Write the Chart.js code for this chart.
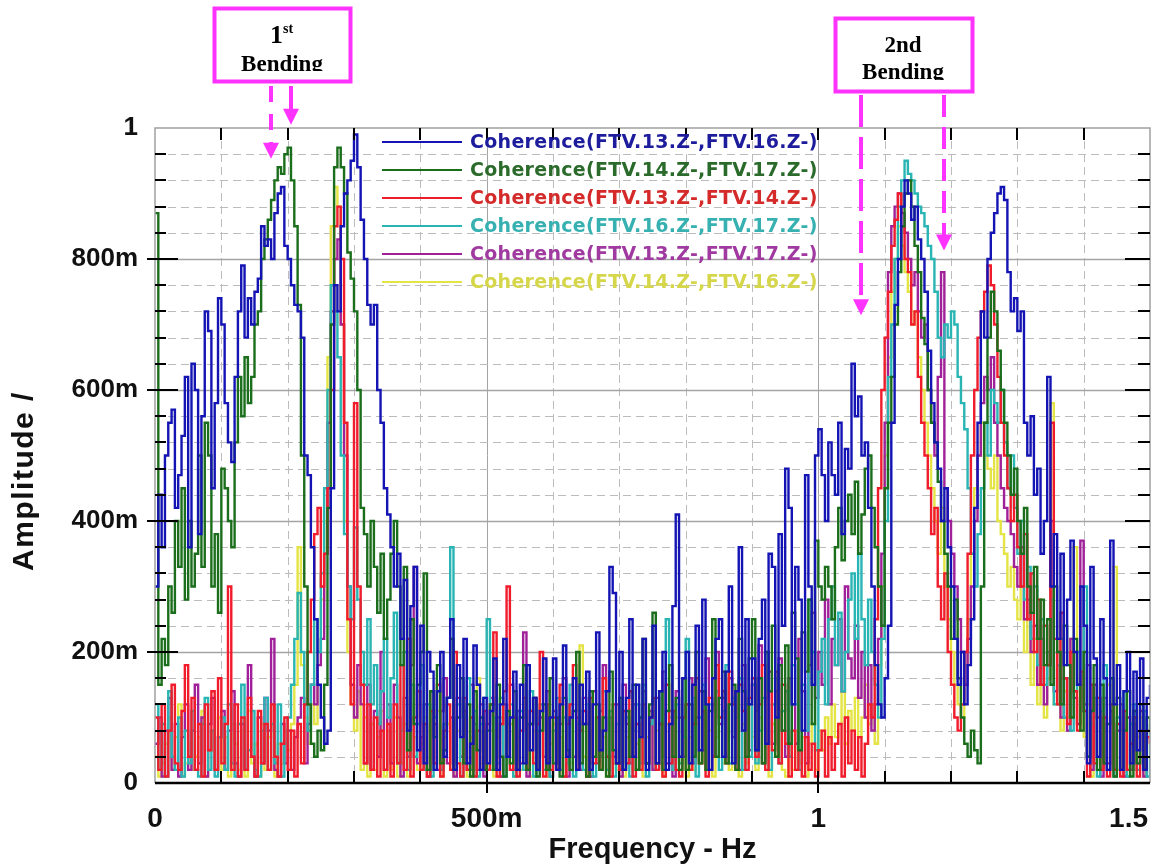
<!DOCTYPE html>
<html><head><meta charset="utf-8">
<script src="https://cdn.jsdelivr.net/npm/chart.js@4.4.1/dist/chart.umd.min.js"></script>
<style>html,body{margin:0;padding:0;background:#fff}canvas{display:block}</style>
</head><body>
<canvas id="c" width="1152" height="867"></canvas>
<script>
// Spectral line spacing of the coherence estimates (Hz)
const FREQ_STEP = 0.005;

const seriesLabels = [
  'Coherence(FTV.13.Z-,FTV.16.Z-)',
  'Coherence(FTV.14.Z-,FTV.17.Z-)',
  'Coherence(FTV.13.Z-,FTV.14.Z-)',
  'Coherence(FTV.16.Z-,FTV.17.Z-)',
  'Coherence(FTV.13.Z-,FTV.17.Z-)',
  'Coherence(FTV.14.Z-,FTV.16.Z-)'
];

const xTickLabels = ['0', '500m', '1', '1.5'];
const xTickValues = [0, 0.5, 1, 1.5];
const xTitle = 'Frequency - Hz';
const yTitle = 'Amplitude /';

const coh13_16 = [
.30,.44,.36,.50,.55,.57,.42,.47,.53,.62,
.36,.64,.60,.38,.56,.72,.69,.45,.58,.74,
.70,.58,.52,.49,.62,.72,.79,.68,.74,.70,
.75,.77,.85,.82,.83,.80,.87,.90,.91,.82,
.80,.76,.73,.72,.68,.50,.47,.36,.25,.15,
.10,.06,.08,.45,.76,.72,.85,.90,.92,.95,
.99,.94,.86,.80,.73,.70,.73,.60,.55,.45,
.41,.36,.30,.35,.22,.31,.08,.27,.33,.05,
.24,.03,.20,.17,.02,.14,.20,.04,.13,.25,
.02,.18,.07,.22,.03,.06,.21,.15,.02,.13,
.03,.11,.19,.02,.12,.22,.04,.10,.17,.02,
.15,.03,.18,.05,.13,.02,.11,.19,.03,.10,
.19,.02,.12,.21,.04,.10,.16,.02,.15,.09,
.17,.02,.12,.23,.05,.08,.14,.33,.29,.03,
.20,.02,.13,.25,.04,.15,.07,.22,.02,.10,
.24,.03,.14,.20,.02,.09,.27,.41,.04,.16,
.20,.03,.15,.24,.05,.28,.12,.02,.16,.22,
.25,.04,.17,.30,.03,.14,.36,.08,.25,.12,
.19,.05,.22,.28,.06,.35,.33,.10,.38,.24,
.48,.42,.12,.33,.28,.08,.47,.30,.15,.50,
.54,.47,.40,.52,.47,.44,.55,.38,.51,.48,
.64,.56,.59,.50,.52,.42,.30,.18,.12,.10,
.16,.24,.55,.73,.80,.88,.92,.90,.86,.88,
.83,.80,.75,.66,.58,.52,.48,.40,.45,.36,
.30,.22,.15,.20,.12,.18,.25,.42,.55,.72,
.68,.80,.84,.87,.90,.91,.89,.78,.72,.74,
.69,.72,.55,.50,.56,.44,.48,.35,.40,.62,
.30,.38,.22,.35,.18,.28,.37,.20,.15,.30,
.24,.03,.33,.19,.04,.25,.16,.02,.37,.12,
.18,.02,.14,.20,.03,.17,.05,.19,.02,.13,
.15];

const coh14_17 = [
.87,.15,.22,.18,.30,.26,.40,.33,.45,.28,
.40,.30,.35,.50,.33,.55,.50,.30,.38,.26,
.48,.45,.40,.36,.52,.62,.56,.65,.58,.62,
.70,.72,.80,.83,.86,.89,.92,.94,.93,.96,
.97,.92,.85,.73,.50,.30,.12,.06,.04,.08,
.05,.15,.42,.70,.94,.97,.94,.90,.81,.77,
.72,.60,.42,.38,.30,.40,.33,.26,.35,.22,
.28,.35,.40,.30,.18,.33,.05,.25,.09,.15,
.20,.32,.02,.14,.07,.18,.03,.05,.13,.22,
.02,.10,.16,.03,.12,.01,.14,.05,.10,.02,
.08,.12,.02,.15,.04,.01,.11,.03,.14,.02,
.10,.18,.02,.09,.13,.01,.08,.12,.02,.16,
.03,.10,.01,.13,.05,.02,.11,.20,.03,.09,
.01,.14,.04,.12,.02,.10,.01,.17,.05,.03,
.13,.02,.11,.04,.15,.02,.10,.22,.03,.12,
.26,.03,.14,.02,.11,.18,.04,.13,.02,.16,
.02,.12,.04,.20,.03,.14,.02,.11,.25,.04,
.13,.17,.03,.12,.15,.02,.22,.14,.04,.19,
.25,.05,.16,.03,.20,.14,.24,.04,.18,.08,
.21,.06,.26,.19,.05,.23,.17,.28,.09,.37,
.30,.28,.33,.30,.25,.36,.42,.34,.40,.44,
.38,.46,.35,.41,.48,.50,.42,.36,.30,.24,
.45,.55,.62,.70,.78,.85,.90,.92,.88,.82,
.78,.71,.67,.60,.55,.52,.46,.40,.35,.30,
.22,.28,.16,.10,.06,.04,.08,.05,.03,.30,
.55,.68,.75,.72,.66,.60,.55,.50,.44,.48,
.40,.35,.42,.30,.26,.33,.22,.28,.18,.25,
.15,.30,.20,.12,.24,.18,.10,.22,.15,.08,
.20,.04,.11,.18,.02,.15,.03,.09,.16,.01,
.13,.02,.08,.14,.01,.11,.03,.12,.02,.10,
.08];

const coh13_14 = [
.10,.02,.12,.01,.08,.15,.03,.02,.11,.18,
.04,.13,.02,.09,.01,.12,.05,.14,.02,.16,
.03,.09,.30,.02,.12,.01,.10,.02,.13,.04,
.01,.11,.03,.09,.02,.12,.04,.01,.06,.10,
.02,.08,.01,.09,.03,.12,.20,.28,.38,.42,
.30,.35,.45,.60,.85,.88,.80,.55,.25,.12,
.58,.30,.15,.03,.12,.02,.10,.01,.08,.02,
.09,.01,.12,.03,.18,.02,.22,.01,.10,.14,
.02,.09,.01,.11,.03,.15,.01,.08,.12,.02,
.20,.03,.01,.13,.02,.10,.01,.08,.02,.11,
.02,.12,.23,.01,.09,.14,.30,.02,.10,.01,
.08,.13,.02,.11,.03,.09,.20,.01,.12,.02,
.10,.02,.15,.01,.09,.12,.18,.02,.08,.11,
.01,.13,.03,.10,.02,.16,.04,.01,.12,.03,
.02,.11,.03,.14,.01,.09,.02,.12,.03,.10,
.13,.02,.09,.01,.15,.03,.11,.02,.01,.10,
.12,.02,.09,.16,.03,.11,.01,.13,.04,.18,
.10,.14,.03,.17,.12,.02,.15,.11,.02,.13,
.16,.04,.12,.18,.02,.14,.05,.17,.03,.15,
.06,.01,.08,.02,.05,.01,.07,.02,.06,.01,
.05,.08,.01,.07,.02,.06,.09,.01,.10,.03,
.08,.02,.07,.01,.06,.12,.10,.25,.45,.60,
.68,.75,.82,.86,.90,.85,.80,.78,.70,.72,
.62,.55,.50,.45,.38,.42,.30,.25,.32,.20,
.15,.10,.08,.12,.20,.35,.50,.60,.68,.72,
.75,.79,.76,.70,.62,.55,.50,.45,.40,.44,
.36,.30,.38,.25,.32,.20,.28,.15,.24,.18,
.55,.22,.12,.26,.16,.09,.20,.14,.08,.17,
.11,.01,.15,.03,.13,.02,.10,.01,.12,.02,
.09,.01,.11,.02,.06,.10,.01,.08,.02,.07,
.06];

const coh16_17 = [
.12,.02,.09,.01,.14,.04,.02,.10,.01,.08,
.03,.11,.02,.01,.09,.13,.02,.08,.01,.07,
.10,.02,.12,.03,.01,.09,.15,.02,.05,.11,
.02,.01,.08,.13,.02,.09,.03,.12,.01,.06,
.10,.15,.22,.29,.20,.12,.08,.15,.25,.20,
.32,.45,.60,.76,.72,.65,.50,.38,.30,.25,
.39,.28,.20,.15,.25,.12,.18,.09,.14,.22,
.10,.16,.26,.03,.08,.20,.02,.15,.04,.09,
.18,.02,.12,.01,.10,.14,.02,.09,.13,.36,
.03,.12,.01,.10,.16,.02,.11,.01,.09,.13,
.25,.02,.10,.03,.13,.01,.09,.12,.01,.07,
.11,.02,.09,.14,.01,.08,.12,.02,.10,.01,
.08,.13,.02,.10,.03,.15,.01,.09,.11,.02,
.12,.03,.01,.10,.04,.14,.02,.11,.01,.09,
.13,.02,.10,.01,.08,.12,.03,.15,.01,.09,
.11,.02,.14,.04,.25,.10,.02,.12,.03,.07,
.22,.03,.13,.01,.10,.15,.02,.12,.04,.14,
.02,.11,.18,.03,.13,.10,.16,.02,.12,.04,
.15,.03,.08,.13,.20,.02,.12,.16,.03,.11,
.14,.04,.18,.12,.02,.15,.08,.28,.20,.05,
.17,.22,.12,.25,.30,.18,.26,.14,.20,.28,
.32,.22,.35,.25,.18,.28,.20,.15,.10,.22,
.40,.62,.70,.80,.88,.92,.95,.93,.92,.90,
.88,.87,.85,.82,.80,.75,.68,.65,.70,.68,
.72,.70,.62,.58,.54,.45,.35,.30,.38,.45,
.55,.50,.60,.58,.55,.60,.52,.45,.50,.42,
.35,.40,.28,.33,.22,.30,.18,.25,.15,.20,
.28,.12,.18,.22,.10,.16,.08,.14,.20,.11,
.30,.04,.09,.13,.01,.11,.18,.02,.12,.01,
.10,.02,.14,.01,.09,.12,.02,.08,.11,.01,
.09];

const coh13_17 = [
.06,.10,.01,.08,.13,.02,.09,.01,.07,.12,
.02,.08,.15,.03,.10,.01,.09,.13,.02,.07,
.11,.02,.08,.14,.03,.01,.09,.02,.18,.04,
.01,.10,.03,.13,.08,.22,.02,.01,.09,.03,
.08,.02,.07,.10,.13,.03,.09,.15,.12,.18,
.22,.35,.55,.72,.80,.83,.70,.50,.30,.15,
.10,.18,.12,.03,.15,.02,.11,.04,.20,.02,
.12,.03,.15,.10,.01,.13,.04,.18,.33,.03,
.07,.12,.01,.14,.09,.02,.11,.16,.03,.10,
.01,.13,.04,.11,.02,.15,.09,.02,.12,.01,
.09,.13,.02,.10,.01,.12,.04,.15,.02,.11,
.03,.23,.01,.09,.13,.02,.10,.04,.14,.01,
.11,.03,.09,.16,.01,.12,.04,.10,.02,.13,
.09,.01,.14,.03,.11,.18,.02,.10,.04,.12,
.01,.15,.09,.03,.12,.02,.10,.14,.03,.11,
.02,.13,.09,.17,.03,.11,.01,.14,.10,.04,
.12,.16,.03,.10,.14,.05,.19,.02,.12,.20,
.09,.13,.04,.16,.07,.14,.02,.18,.12,.05,
.15,.11,.21,.03,.13,.17,.06,.14,.19,.08,
.04,.16,.12,.06,.22,.14,.03,.18,.26,.13,
.20,.15,.28,.12,.22,.18,.25,.14,.30,.19,
.16,.24,.13,.20,.10,.18,.08,.12,.22,.35,
.55,.78,.85,.88,.90,.87,.84,.80,.76,.78,
.72,.68,.70,.60,.55,.50,.62,.78,.45,.40,
.35,.30,.25,.20,.15,.22,.30,.40,.50,.58,
.62,.60,.65,.55,.50,.45,.42,.40,.38,.33,
.30,.36,.25,.28,.20,.24,.15,.22,.12,.18,
.40,.14,.20,.10,.16,.08,.22,.13,.09,.37,
.12,.18,.02,.15,.10,.01,.13,.03,.11,.02,
.08,.12,.01,.10,.02,.09,.03,.11,.01,.08,
.06];

const coh14_16 = [
.04,.01,.03,.06,.10,.02,.07,.12,.01,.03,
.06,.02,.04,.07,.11,.01,.05,.08,.02,.10,
.02,.07,.01,.09,.06,.02,.08,.01,.11,.03,
.06,.01,.09,.02,.07,.12,.01,.06,.03,.08,
.05,.09,.15,.36,.18,.10,.06,.12,.09,.20,
.28,.40,.65,.85,.91,.88,.70,.40,.20,.12,
.08,.14,.02,.10,.01,.09,.02,.07,.11,.01,
.08,.02,.10,.01,.03,.09,.01,.12,.07,.02,
.06,.10,.01,.08,.02,.11,.01,.07,.09,.02,
.01,.08,.03,.10,.01,.07,.02,.16,.03,.09,
.02,.08,.01,.07,.10,.02,.06,.09,.01,.07,
.02,.10,.03,.01,.08,.02,.12,.04,.01,.06,
.09,.02,.07,.01,.08,.03,.11,.02,.21,.04,
.01,.08,.03,.10,.02,.07,.01,.09,.03,.02,
.08,.01,.07,.11,.02,.06,.09,.01,.07,.10,
.02,.08,.03,.01,.09,.04,.02,.10,.03,.08,
.01,.07,.02,.09,.03,.12,.02,.08,.01,.07,
.10,.03,.08,.02,.11,.04,.01,.09,.03,.13,
.07,.02,.10,.03,.08,.01,.09,.04,.11,.02,
.01,.06,.02,.08,.03,.07,.01,.06,.09,.02,
.08,.05,.10,.06,.12,.07,.09,.14,.06,.11,
.08,.13,.07,.10,.15,.09,.12,.06,.18,.30,
.50,.65,.75,.80,.85,.82,.78,.75,.70,.72,
.65,.60,.55,.50,.45,.40,.35,.42,.30,.25,
.20,.15,.12,.10,.18,.25,.35,.45,.50,.55,
.50,.48,.45,.50,.40,.38,.35,.30,.33,.28,
.25,.30,.20,.26,.15,.22,.12,.18,.10,.16,
.58,.12,.18,.08,.14,.10,.22,.36,.09,.15,
.07,.12,.01,.10,.13,.02,.09,.15,.03,.33,
.02,.08,.11,.01,.09,.02,.07,.10,.01,.08,
.05];

const seriesValues = [coh13_16, coh14_17, coh13_14, coh16_17, coh13_17, coh14_16];
const lineColors = ['#1414b4', '#1b6e1b', '#f01c2c', '#2ab5b5', '#a0209a', '#e4e445'];
const textColors = ['#1c1c9c', '#2a6a2a', '#d42a2a', '#36b0b0', '#a03aa0', '#d6d64a'];

seriesValues.forEach((a, k) => {
  if (a.length !== 301) throw new Error('series ' + k + ' has ' + a.length + ' values');
});

const datasets = seriesValues.map((vals, k) => ({
  label: seriesLabels[k],
  data: vals.map((v, i) => ({ x: i * FREQ_STEP, y: v })),
  borderColor: lineColors[k],
  backgroundColor: lineColors[k],
  borderWidth: 2.4,
  pointRadius: 0,
  stepped: true,
  fill: false
}));

const MAGENTA = '#ff33ff';

const decorPlugin = {
  id: 'decor',
  beforeDatasetsDraw(chart) {
    const { ctx, chartArea: a, scales: { x, y } } = chart;
    ctx.save();
    ctx.lineWidth = 1;
    for (let k = 1; k < 15; k++) {
      const px = Math.round(x.getPixelForValue(k / 10)) + 0.5;
      const major = k % 5 === 0;
      ctx.strokeStyle = major ? '#a4a4a4' : '#bcbcbc';
      ctx.setLineDash(major ? [] : [8, 5]);
      ctx.beginPath(); ctx.moveTo(px, a.top); ctx.lineTo(px, a.bottom); ctx.stroke();
    }
    for (let k = 1; k < 25; k++) {
      const py = Math.round(y.getPixelForValue(k * 0.04)) + 0.5;
      const major = k % 5 === 0;
      ctx.strokeStyle = major ? '#a4a4a4' : '#bcbcbc';
      ctx.lineWidth = major ? 1.5 : 1;
      ctx.setLineDash(major ? [] : [8, 5]);
      ctx.beginPath(); ctx.moveTo(a.left, py); ctx.lineTo(a.right, py); ctx.stroke();
    }
    ctx.restore();
  },
  afterDatasetsDraw(chart) {
    const { ctx, chartArea: a, scales: { x, y } } = chart;
    ctx.save();
    ctx.strokeStyle = '#a0a0a0';
    ctx.lineWidth = 1.5;
    ctx.beginPath();
    ctx.moveTo(a.left, a.bottom); ctx.lineTo(a.left, a.top); ctx.lineTo(a.right, a.top); ctx.lineTo(a.right, a.bottom);
    ctx.stroke();
    ctx.strokeStyle = '#000';
    ctx.lineWidth = 2;
    ctx.beginPath();
    for (let k = 1; k < 25; k++) {
      const py = Math.round(y.getPixelForValue(k * 0.04));
      const major = k % 5 === 0;
      ctx.moveTo(major ? a.left - 8 : a.left, py); ctx.lineTo(a.left + (major ? 23 : 11), py);
      ctx.moveTo(a.right - (major ? 25 : 12), py); ctx.lineTo(a.right, py);
    }
    for (let k = 1; k < 15; k++) {
      const px = Math.round(x.getPixelForValue(k / 10));
      ctx.moveTo(px, a.top); ctx.lineTo(px, a.top + 12);
      ctx.moveTo(px, a.bottom + (k % 5 === 0 ? 10 : 0)); ctx.lineTo(px, a.bottom - 12);
    }
    ctx.stroke();
    ctx.lineWidth = 2.5;
    ctx.beginPath(); ctx.moveTo(a.left, a.bottom); ctx.lineTo(a.right, a.bottom); ctx.stroke();

    // legend
    ctx.font = 'bold 19px "DejaVu Sans"';
    ctx.letterSpacing = '0.3px';
    ctx.textBaseline = 'middle';
    ctx.textAlign = 'left';
    chart.data.datasets.forEach((ds, k) => {
      const ly = 142 + k * 28;
      ctx.strokeStyle = ds.borderColor;
      ctx.lineWidth = 2;
      ctx.beginPath(); ctx.moveTo(382, ly); ctx.lineTo(462, ly); ctx.stroke();
      ctx.fillStyle = textColors[k];
      ctx.fillText(ds.label, 470, ly + 1);
    });
    ctx.restore();
  },
  afterDraw(chart) {
    const { ctx, chartArea: a, scales: { x, y } } = chart;
    ctx.save();
    ctx.font = 'bold 28px "Liberation Sans"';
    ctx.fillStyle = '#111';
    ctx.textBaseline = 'middle';
    ctx.textAlign = 'center';
    xTickValues.forEach((v, k) => {
      const px = x.getPixelForValue(v);
      const w = ctx.measureText(xTickLabels[k]).width;
      let cx = px;
      if (px + w / 2 > chart.width - 2) cx = chart.width - 4 - w / 2;
      ctx.fillText(xTickLabels[k], cx, a.bottom + 36);
    });
    ctx.save();
    ctx.translate(25, 481);
    ctx.rotate(-Math.PI / 2);
    ctx.font = 'bold 30px "Liberation Sans"';
    ctx.letterSpacing = '1.5px';
    ctx.fillText(yTitle, 0, 0);
    ctx.restore();

    ctx.strokeStyle = MAGENTA;
    ctx.lineWidth = 4;
    ctx.strokeRect(214.5, 8.5, 136, 73);
    ctx.strokeRect(835.5, 18.5, 137, 73);

    ctx.fillStyle = '#000';
    ctx.textBaseline = 'alphabetic';
    ctx.font = 'bold 26px "Liberation Serif"';
    ctx.textAlign = 'right';
    ctx.fillText('1', 283, 43);
    ctx.font = 'bold 14px "Liberation Serif"';
    ctx.textAlign = 'left';
    ctx.fillText('st', 283, 33);
    ctx.font = 'bold 23px "Liberation Serif"';
    ctx.textAlign = 'center';
    ctx.save();
    ctx.beginPath(); ctx.rect(215, 40, 135, 31); ctx.clip();
    ctx.fillText('Bending', 282, 71);
    ctx.restore();
    ctx.fillText('2nd', 903, 52);
    ctx.save();
    ctx.beginPath(); ctx.rect(836, 55, 135, 25); ctx.clip();
    ctx.fillText('Bending', 903, 79);
    ctx.restore();

    function arrow(fx, y0, tipVal, dash) {
      const px = Math.round(x.getPixelForValue(fx));
      const tip = y.getPixelForValue(tipVal);
      const base = tip - 16;
      ctx.save();
      ctx.strokeStyle = MAGENTA;
      ctx.fillStyle = MAGENTA;
      ctx.lineWidth = 4;
      ctx.setLineDash(dash);
      ctx.beginPath(); ctx.moveTo(px, y0); ctx.lineTo(px, base + 2); ctx.stroke();
      ctx.setLineDash([]);
      ctx.beginPath();
      ctx.moveTo(px - 8, base); ctx.lineTo(px + 8, base); ctx.lineTo(px, tip); ctx.closePath();
      ctx.fill();
      ctx.restore();
    }
    arrow(0.175, 86, 0.953, [16, 12]);
    arrow(0.205, 86, 1.005, []);
    arrow(1.064, 95, 0.714, [32, 10]);
    arrow(1.189, 95, 0.813, [22, 10]);
    ctx.restore();
  }
};

Chart.defaults.font.family = '"Liberation Sans", Arial, sans-serif';
Chart.defaults.color = '#111';

new Chart(document.getElementById('c'), {
  type: 'line',
  data: { datasets },
  options: {
    responsive: false,
    animation: false,
    devicePixelRatio: 1,
    layout: { padding: { top: 128, right: 2, left: 0, bottom: 0 } },
    plugins: { legend: { display: false }, tooltip: { enabled: false } },
    scales: {
      x: {
        type: 'linear', min: 0, max: 1.5,
        grid: { display: false, drawTicks: false },
        border: { display: false },
        ticks: { display: false },
        title: { display: true, text: xTitle, font: { size: 29, weight: 'bold' }, color: '#111', padding: { top: 0, bottom: 0 } },
        afterFit(s) { s.height = 84; }
      },
      y: {
        min: 0, max: 1,
        grid: { display: false, drawTicks: false },
        border: { display: false },
        ticks: {
          stepSize: 0.2, padding: 17, color: '#111',
          font: { size: 26, weight: 'bold' },
          callback: v => (v === 0 ? '0' : Math.abs(v - 1) < 1e-9 ? '1' : Math.round(v * 1000) + 'm')
        },
        title: { display: false },
        afterFit(s) { s.width = 155; }
      }
    }
  },
  plugins: [decorPlugin]
});
</script>
</body></html>
